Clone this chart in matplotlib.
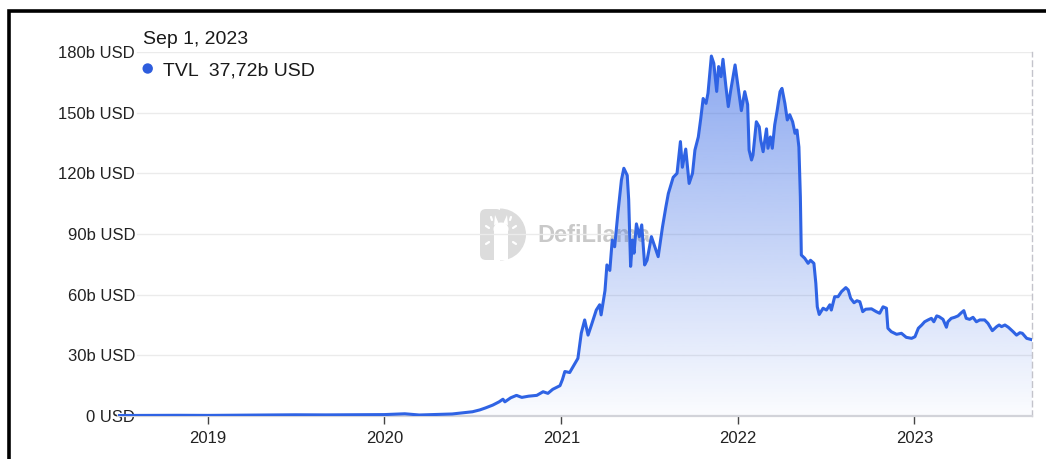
import matplotlib
matplotlib.use("Agg")
import matplotlib.pyplot as plt
import matplotlib.dates as mdates
import numpy as np
import pandas as pd
from matplotlib.patches import Polygon, FancyBboxPatch, Ellipse, Circle, Wedge, Rectangle
from matplotlib.lines import Line2D

plt.rcParams["font.family"] = ["Liberation Sans", "DejaVu Sans"]

# ---- data: total value locked, billions of USD ----
tvl_dates = [
    "2018-06-29", "2018-09-01", "2018-11-01", "2019-01-01", "2019-03-01", "2019-05-01",
    "2019-07-01", "2019-09-01", "2019-11-01", "2020-01-01", "2020-02-12", "2020-03-13",
    "2020-04-20", "2020-05-20", "2020-06-11", "2020-07-01", "2020-07-16", "2020-07-28",
    "2020-08-12", "2020-08-25", "2020-09-02", "2020-09-06", "2020-09-18", "2020-09-30",
    "2020-10-11", "2020-10-25", "2020-11-11", "2020-11-24", "2020-12-04", "2020-12-14",
    "2020-12-29", "2021-01-03", "2021-01-08", "2021-01-18", "2021-01-29", "2021-02-04",
    "2021-02-11", "2021-02-18", "2021-02-25", "2021-03-04", "2021-03-14", "2021-03-21",
    "2021-03-24", "2021-04-01", "2021-04-05", "2021-04-11", "2021-04-16", "2021-04-21",
    "2021-04-28", "2021-05-05", "2021-05-10", "2021-05-17", "2021-05-20", "2021-05-24",
    "2021-05-28", "2021-05-31", "2021-06-05", "2021-06-11", "2021-06-16", "2021-06-22",
    "2021-06-27", "2021-07-06", "2021-07-13", "2021-07-20", "2021-07-29", "2021-08-05",
    "2021-08-10", "2021-08-20", "2021-08-28", "2021-09-04", "2021-09-08", "2021-09-15",
    "2021-09-22", "2021-09-29", "2021-10-04", "2021-10-11", "2021-10-16", "2021-10-21",
    "2021-10-27", "2021-10-31", "2021-11-07", "2021-11-12", "2021-11-18", "2021-11-22",
    "2021-11-27", "2021-12-01", "2021-12-07", "2021-12-12", "2021-12-17", "2021-12-26",
    "2022-01-01", "2022-01-08", "2022-01-15", "2022-01-21", "2022-01-24", "2022-01-29",
    "2022-02-01", "2022-02-08", "2022-02-14", "2022-02-17", "2022-02-22", "2022-03-01",
    "2022-03-04", "2022-03-09", "2022-03-13", "2022-03-18", "2022-03-23", "2022-03-29",
    "2022-04-02", "2022-04-08", "2022-04-13", "2022-04-18", "2022-04-24", "2022-04-29",
    "2022-05-03", "2022-05-07", "2022-05-10", "2022-05-12", "2022-05-19", "2022-05-26",
    "2022-05-31", "2022-06-07", "2022-06-11", "2022-06-14", "2022-06-18", "2022-06-26",
    "2022-07-03", "2022-07-10", "2022-07-13", "2022-07-20", "2022-07-27", "2022-08-03",
    "2022-08-12", "2022-08-17", "2022-08-22", "2022-08-29", "2022-09-04", "2022-09-10",
    "2022-09-16", "2022-09-22", "2022-10-04", "2022-10-14", "2022-10-21", "2022-10-28",
    "2022-11-04", "2022-11-07", "2022-11-14", "2022-11-25", "2022-12-05", "2022-12-15",
    "2022-12-26", "2023-01-02", "2023-01-09", "2023-01-16", "2023-01-22", "2023-01-29",
    "2023-02-05", "2023-02-10", "2023-02-16", "2023-02-21", "2023-03-01", "2023-03-08",
    "2023-03-11", "2023-03-18", "2023-03-25", "2023-04-01", "2023-04-08", "2023-04-13",
    "2023-04-18", "2023-04-25", "2023-05-02", "2023-05-09", "2023-05-16", "2023-05-26",
    "2023-06-02", "2023-06-11", "2023-06-20", "2023-06-25", "2023-06-30", "2023-07-07",
    "2023-07-14", "2023-07-24", "2023-07-31", "2023-08-07", "2023-08-12", "2023-08-21",
    "2023-09-01",
]
tvl_values = [
    0.25, 0.30, 0.35, 0.30, 0.40, 0.50,
    0.60, 0.55, 0.65, 0.70, 1.10, 0.50,
    0.75, 1.00, 1.60, 2.10, 3.00, 4.00,
    5.40, 7.00, 8.30, 7.00, 9.00, 10.2,
    9.2, 9.8, 10.2, 12.0, 11.2, 13.2,
    15.0, 18.0, 22.0, 21.5, 26.0, 28.5,
    41.0, 47.5, 40.0, 45.0, 52.4, 55.0,
    50.0, 62.0, 74.7, 72.0, 87.0, 83.7,
    101.0, 116.7, 122.5, 119.0, 107.0, 74.0,
    87.0, 80.5, 95.0, 88.7, 94.5, 74.7,
    77.0, 88.7, 83.7, 78.8, 93.6, 103.5,
    110.0, 118.0, 120.0, 135.7, 123.0, 132.0,
    115.0, 120.0, 131.5, 138.0, 147.0, 157.0,
    154.6, 159.6, 178.0, 174.4, 160.5, 172.8,
    167.8, 176.4, 163.0, 153.0, 161.0, 173.6,
    163.0, 151.0, 160.4, 154.0, 131.5, 126.6,
    129.0, 145.5, 143.0, 136.5, 130.7, 142.0,
    132.4, 138.0, 132.4, 144.0, 151.0, 160.4,
    162.0, 154.6, 146.4, 149.0, 145.5, 139.8,
    141.4, 133.0, 108.5, 79.6, 78.0, 75.5,
    77.0, 75.5, 65.6, 54.0, 50.2, 53.3,
    52.4, 55.0, 52.4, 59.0, 59.0, 61.5,
    63.5, 62.3, 58.2, 56.0, 57.0, 56.5,
    51.6, 52.8, 53.0, 51.6, 50.8, 54.0,
    53.3, 43.4, 41.7, 40.4, 40.9, 38.9,
    38.4, 39.2, 43.4, 45.0, 46.6, 47.5,
    48.3, 46.6, 49.5, 49.1, 47.8, 43.9,
    46.6, 48.3, 48.8, 49.5, 51.1, 52.1,
    48.3, 47.8, 48.8, 46.6, 47.5, 47.5,
    45.8, 42.2, 44.2, 45.0, 44.2, 45.0,
    43.9, 41.7, 40.0, 41.2, 40.9, 38.4,
    37.72,
]

y_ticks = [0, 30, 60, 90, 120, 150, 180]
y_labels = ["0 USD", "30b USD", "60b USD", "90b USD", "120b USD", "150b USD", "180b USD"]
year_ticks = ["2019-01-01", "2020-01-01", "2021-01-01", "2022-01-01", "2023-01-01"]
year_labels = ["2019", "2020", "2021", "2022", "2023"]
x_start, x_end = "2018-06-29", "2023-09-01"

tooltip_date = "Sep 1, 2023"
tooltip_label = "TVL  37,72b USD"

LINE = "#2f63e4"
W, H = 1046, 459

fig = plt.figure(figsize=(W / 100, H / 100), dpi=100)
fig.patch.set_facecolor("white")

# background layer in pixel coordinates (watermark, frame)
bg = fig.add_axes([0, 0, 1, 1], zorder=-1)
bg.set_xlim(0, W)
bg.set_ylim(H, 0)
bg.axis("off")

# watermark logo
logo_col = "#dcdcdc"
bg.add_patch(FancyBboxPatch((480, 209), 22, 51, boxstyle="round,pad=0,rounding_size=6",
                            facecolor=logo_col, edgecolor="none"))
bg.add_patch(Wedge((500, 234.5), 26, -90, 90, facecolor=logo_col, edgecolor="none"))
bg.add_patch(Ellipse((501, 229), 15, 13, facecolor="white", edgecolor="none"))
bg.add_patch(Rectangle((494, 230), 14, 30, facecolor="white", edgecolor="none"))
bg.add_patch(Polygon([[494, 225], [495, 215], [499, 224]], facecolor="white", edgecolor="none"))
bg.add_patch(Polygon([[503, 224], [507, 215], [508, 225]], facecolor="white", edgecolor="none"))
for (xa, ya, xb, yb) in [(486, 226, 489, 228), (486, 244, 489, 242), (516, 226, 513, 228),
                         (516, 244, 513, 242), (491, 217, 492, 220), (511, 217, 510, 220)]:
    bg.plot([xa, xb], [ya, yb], color="white", lw=1.6, solid_capstyle="round")
bg.text(537, 236, "DefiLlama", fontsize=17, fontweight="bold", color="#c9c9c9",
        ha="left", va="center")

# page frame (left and top edges)
fig.add_artist(Line2D([9 / W, 9 / W, 1.0], [0.0, 1 - 11 / H, 1 - 11 / H],
                      transform=fig.transFigure, color="black", lw=2.6,
                      solid_joinstyle="miter"))

# main chart
ax = fig.add_axes([118 / W, (H - 416) / H, (1032 - 118) / W, (416 - 52) / H])
ax.patch.set_alpha(0)
ax.set_axisbelow(True)

xd = mdates.date2num(pd.to_datetime(tvl_dates))
yv = np.array(tvl_values)
x0 = mdates.date2num(pd.Timestamp(x_start))
x1 = mdates.date2num(pd.Timestamp(x_end))
ax.set_xlim(x0, x1)
ax.set_ylim(0, 180)

# gradient area under the line
rgb = np.array(matplotlib.colors.to_rgb(LINE))
ny = 256
img = np.zeros((ny, 1, 4))
img[..., :3] = rgb
img[:, 0, 3] = np.linspace(0.02, 0.56, ny)
im = ax.imshow(img, extent=[x0, x1, 0, 180], origin="lower", aspect="auto",
               interpolation="bilinear", zorder=1)
area = Polygon(np.column_stack([np.r_[xd[0], xd, xd[-1]], np.r_[0, yv, 0]]),
               closed=True, facecolor="none", edgecolor="none", transform=ax.transData)
ax.add_patch(area)
im.set_clip_path(area)

ax.plot(xd, yv, color=LINE, lw=2.2, zorder=3, solid_joinstyle="round")

# horizontal grid
for v in y_ticks[1:]:
    ax.axhline(v, xmin=19 / 914, xmax=1, color="#ebebeb", lw=1, zorder=0.4)

for s in ("left", "top"):
    ax.spines[s].set_visible(False)
ax.spines["right"].set_color("#c3c3cb")
ax.spines["right"].set_linestyle((0, (4, 3)))
ax.spines["right"].set_linewidth(1)
ax.spines["bottom"].set_color("#d2d3d9")
ax.spines["bottom"].set_linewidth(1.6)

ax.set_yticks(y_ticks, y_labels)
ax.tick_params(axis="y", length=0, pad=-17 * 0.72, labelsize=12, labelcolor="#222222")
ax.set_xticks(mdates.date2num(pd.to_datetime(year_ticks)), year_labels)
ax.tick_params(axis="x", length=6, width=1, color="#444444", labelsize=12,
               labelcolor="#222222", pad=5)

# tooltip header
fig.text(143 / W, 1 - 44 / H, tooltip_date, fontsize=14, color="#1a1a1a",
         ha="left", va="baseline")
bg.add_patch(Circle((147.7, 68.5), 5.2, facecolor="#2e5ddd", edgecolor="none"))
fig.text(163 / W, 1 - 75 / H, tooltip_label, fontsize=14, color="#1a1a1a",
         ha="left", va="baseline")

fig.savefig("out.png", dpi=100, facecolor="white")
